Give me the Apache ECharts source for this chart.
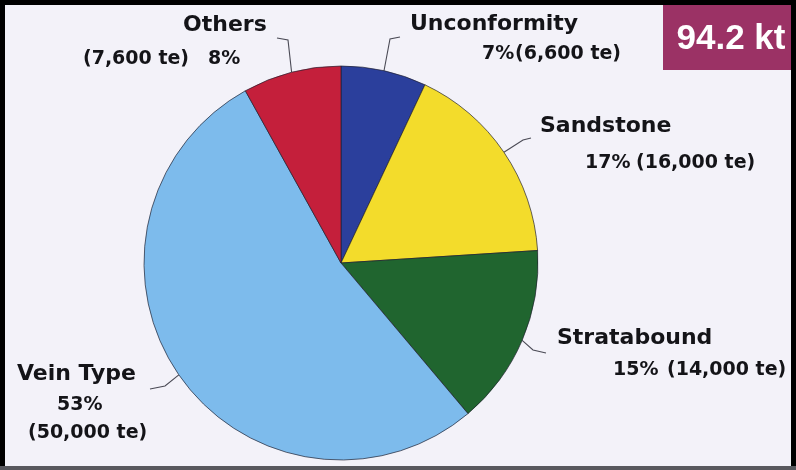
<!DOCTYPE html>
<html>
<head>
<meta charset="utf-8">
<script src="https://cdn.jsdelivr.net/npm/echarts@6/dist/echarts.min.js"></script>
<style>
  html, body { margin: 0; padding: 0; background: #f3f2f9; }
  #chart { width: 796px; height: 470px; }
</style>
</head>
<body>
<div id="chart"></div>
<script>
// Uranium resources by deposit type (tonnes)
const categories = ['Unconformity', 'Sandstone', 'Stratabound', 'Vein Type', 'Others'];
const tonnes = [6600, 16000, 14000, 50000, 7600];

// Slice colours, in category order
const sliceColors = ['#2b3f9c', '#f3dc2b', '#20652f', '#7dbbec', '#c41f3b'];

// Label placement: block top-left, per-line heights and token start offsets,
// plus the elbow and end of each leader line.
const labelSpecs = [
  { x: 410, y: 9, lines: [
      { h: 30, parts: [['name', 0]] },
      { h: 30, parts: [['pct', 72], ['te', 105]] }],
    leader: [[390, 39], [400, 37]] },
  { x: 540, y: 108, lines: [
      { h: 37, parts: [['name', 0]] },
      { h: 37, parts: [['pct', 45], ['te', 96]] }],
    leader: [[523, 140], [531, 138]] },
  { x: 557, y: 322, lines: [
      { h: 32, parts: [['name', 0]] },
      { h: 32, parts: [['pct', 56], ['te', 110]] }],
    leader: [[533, 350], [546, 353]] },
  { x: 17, y: 358, lines: [
      { h: 32, parts: [['name', 0]] },
      { h: 30, parts: [['pct', 40]] },
      { h: 26, parts: [['te', 11]] }],
    leader: [[165, 386], [150, 389]] },
  { x: 83, y: 8, lines: [
      { h: 34, parts: [['name', 100]] },
      { h: 34, parts: [['te', 0], ['pct', 125]] }],
    leader: [[288, 40], [277, 38]] }
];

const FONT = 'DejaVu Sans';
const total = tonnes.reduce((a, b) => a + b, 0);

function withCommas(n) {
  return String(n).replace(/\B(?=(\d{3})+(?!\d))/g, ',');
}

function buildLabel(i) {
  const spec = labelSpecs[i];
  const texts = {
    name: categories[i],
    pct: Math.round(tonnes[i] / total * 100) + '%',
    te: '(' + withCommas(tonnes[i]) + ' te)'
  };
  const rich = {};
  const lineStrs = spec.lines.map((line, li) => {
    let s = '';
    line.parts.forEach((p, pi) => {
      const [kind, off] = p;
      if (pi === 0 && off > 0) {
        const key = 'sp' + li;
        rich[key] = { width: off, lineHeight: line.h, fontSize: 12 };
        s += '{' + key + '| }';
      }
      const key = 't' + li + '_' + pi;
      const style = {
        fontFamily: FONT,
        fontWeight: 'bold',
        color: '#141418',
        fontSize: kind === 'name' ? 22 : 19,
        lineHeight: line.h
      };
      const next = line.parts[pi + 1];
      if (next) style.width = next[1] - off;
      rich[key] = style;
      s += '{' + key + '|' + texts[kind] + '}';
    });
    return s;
  });
  return {
    show: true,
    position: 'outside',
    formatter: lineStrs.join('\n'),
    rich: rich
  };
}

const seriesData = categories.map((name, i) => ({
  name: name,
  value: tonnes[i],
  itemStyle: { color: sliceColors[i] },
  label: buildLabel(i)
}));

const chart = echarts.init(document.getElementById('chart'), null, { renderer: 'canvas' });

chart.setOption({
  backgroundColor: '#f3f2f9',
  animation: false,
  series: [{
    type: 'pie',
    center: [341, 263],
    radius: 197,
    startAngle: 90,
    clockwise: true,
    avoidLabelOverlap: false,
    itemStyle: { borderColor: 'rgba(30,30,45,0.85)', borderWidth: 0.8 },
    labelLine: { show: true, lineStyle: { color: '#4a4a55', width: 1.1 } },
    emphasis: { disabled: true },
    data: seriesData,
    labelLayout: function (params) {
      const spec = labelSpecs[params.dataIndex];
      const start = params.labelLinePoints ? params.labelLinePoints[0] : spec.leader[0];
      return {
        x: spec.x,
        y: spec.y,
        align: 'left',
        verticalAlign: 'top',
        labelLinePoints: [start, spec.leader[0], spec.leader[1]]
      };
    }
  }],
  graphic: [
    { type: 'rect', shape: { x: 0, y: 0, width: 796, height: 5 }, style: { fill: '#000' }, silent: true },
    { type: 'rect', shape: { x: 0, y: 0, width: 5, height: 470 }, style: { fill: '#000' }, silent: true },
    { type: 'rect', shape: { x: 791, y: 0, width: 5, height: 470 }, style: { fill: '#000' }, silent: true },
    { type: 'rect', shape: { x: 0, y: 466, width: 796, height: 4 }, style: { fill: '#58585e' }, silent: true },
    { type: 'rect', shape: { x: 663, y: 5, width: 128, height: 65 }, style: { fill: '#9b3265' }, silent: true },
    {
      type: 'text', x: 731, y: 39, silent: true,
      style: {
        text: (total / 1000).toFixed(1) + ' kt',
        fill: '#ffffff',
        font: 'bold 35px "Liberation Sans", Arial, sans-serif',
        textAlign: 'center',
        textVerticalAlign: 'middle'
      }
    }
  ]
});
</script>
</body>
</html>
